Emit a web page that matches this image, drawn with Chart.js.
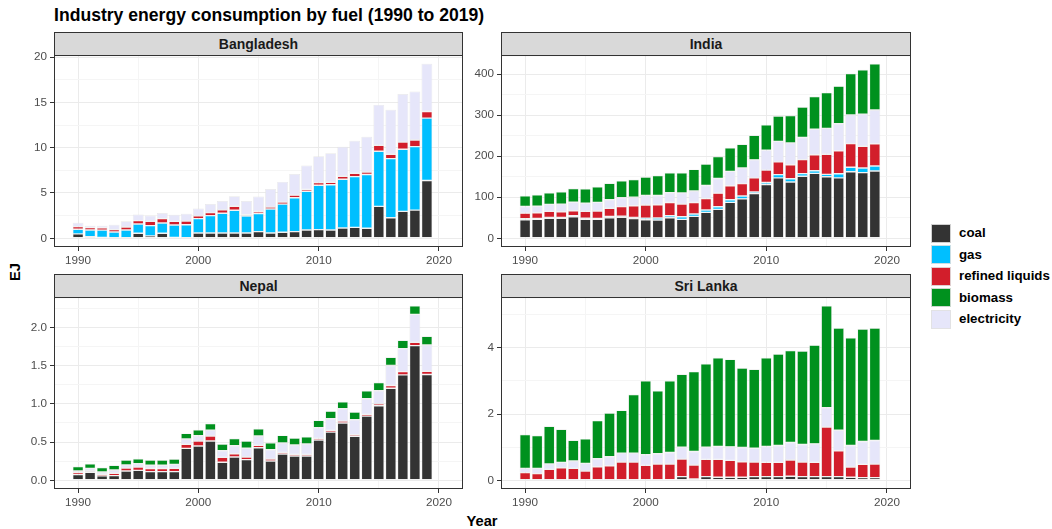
<!DOCTYPE html>
<html>
<head>
<meta charset="utf-8">
<script src="https://cdn.jsdelivr.net/npm/chart.js@4.4.1/dist/chart.umd.min.js"></script>
<style>
  body { margin:0; background:#fff; width:1052px; height:529px; overflow:hidden; position:relative;
         font-family:"Liberation Sans", Arial, sans-serif; }
  .abs { position:absolute; }
  .title { left:54px; top:4px; font-weight:bold; font-size:17.6px; line-height:22px; color:#000; white-space:nowrap; }
  .strip { box-sizing:border-box; background:#D9D9D9; border:1px solid #333; text-align:center;
           font-weight:bold; font-size:14px; color:#1A1A1A; display:flex; align-items:center; justify-content:center; }
  .axtitle { font-weight:bold; font-size:14.67px; color:#000; white-space:nowrap; }
  .key { width:20px; height:19px; box-sizing:border-box; border:1px solid rgba(225,225,225,0.9); }
  .ltext { font-weight:bold; font-size:13.3px; color:#000; white-space:nowrap; line-height:16px; }
</style>
</head>
<body>
<div class="abs title">Industry energy consumption by fuel (1990 to 2019)</div>
<div class="abs axtitle" style="left:482px; top:521px; transform:translate(-50%,-50%);">Year</div>
<div class="abs axtitle" style="left:15px; top:272px; transform:translate(-50%,-50%) rotate(-90deg);">EJ</div>
<div id="legend"></div>
<script>
// ---------- data ----------
const years = [1990,1991,1992,1993,1994,1995,1996,1997,1998,1999,2000,2001,2002,2003,2004,2005,2006,2007,2008,2009,2010,2011,2012,2013,2014,2015,2016,2017,2018,2019];
const xTickLabels = [1990,2000,2010,2020];

const fuels = ['coal','gas','refined liquids','biomass','electricity'];           // legend order
const stackOrder = ['coal','gas','refined liquids','electricity','biomass'];      // bottom -> top
const fuelColors = ['#333333','#00BFFF','#D21E2B','#00911E','#E6E6FA'];

// Bangladesh
const bdCoal    = [0.48,0.18,0.10,0.05,0.00,0.55,0.26,0.55,0.10,0.05,0.59,0.59,0.59,0.59,0.59,0.73,0.59,0.66,0.73,0.92,0.95,0.92,1.13,1.20,1.10,3.52,2.27,2.97,3.11,6.37];
const bdGas     = [0.51,0.74,0.80,0.65,0.92,1.03,1.14,1.14,1.36,1.45,1.58,1.91,2.17,2.50,1.87,2.00,2.64,3.11,3.74,4.25,4.90,4.98,5.38,5.60,5.93,6.08,6.52,6.85,7.00,6.89];
const bdRefined = [0.29,0.26,0.25,0.25,0.33,0.37,0.48,0.48,0.40,0.40,0.30,0.33,0.37,0.44,0.15,0.22,0.22,0.22,0.29,0.22,0.29,0.29,0.33,0.37,0.29,0.66,0.48,0.80,0.73,0.73];
const bdElec    = [0.44,0.20,0.22,0.55,0.62,0.66,0.62,0.62,0.73,0.80,0.81,0.96,0.99,1.10,1.50,1.65,1.98,2.23,2.34,2.63,2.90,3.19,3.26,3.60,3.88,4.46,4.90,5.30,5.35,5.27];
const bdTicks   = [0,5,10,15,20];

// India
const inCoal    = [45,46,48.6,48.6,52.6,46,46,50,51,47.8,45,44.5,50,46,53.4,63,70.4,87.4,96,109,131,147,137,151,158,150,147,162,160,164];
const inGas     = [2.4,2,2,2,2.4,3,2.4,3,3,3.2,4,5,5,6.5,5.7,5.7,6.5,6.5,7,4,5,8,8,6.5,6.5,5.7,10,11,11,12];
const inRefined = [13.8,14,15,14,12,17,18,20,23,28,32,32,32,31,28,28,33,34,30,34,30,31,34,34,39,49,56,57.5,53,54];
const inElec    = [16.2,16,17,18.6,21,19.4,21,21,22,21,23.5,22.7,24,27,28,32,35.6,35,38,44,48.6,50,53,54,62,63,66,70,78.5,82.6];
const inBio     = [25.9,28,28,30,33,35,38,40,41,43,44.5,48.6,48.6,49,52.6,52,53.4,57.5,58,60,62,62,67,74,80,87,91.5,101,108,112.5];
const inTicks   = [0,100,200,300,400];

// Nepal
const npCoal    = [0.074,0.104,0.057,0.061,0.122,0.130,0.113,0.113,0.113,0.417,0.448,0.513,0.235,0.304,0.270,0.426,0.252,0.343,0.317,0.317,0.526,0.630,0.748,0.574,0.839,0.974,1.204,1.378,1.761,1.383];
const npRefined = [0.026,0.017,0.022,0.030,0.039,0.043,0.040,0.040,0.043,0.052,0.065,0.065,0.065,0.043,0.035,0.030,0.026,0.022,0.022,0.022,0.022,0.022,0.026,0.022,0.022,0.026,0.035,0.043,0.043,0.043];
const npElec    = [0.022,0.035,0.030,0.043,0.039,0.043,0.043,0.043,0.052,0.070,0.070,0.078,0.087,0.104,0.113,0.122,0.122,0.122,0.122,0.135,0.139,0.152,0.161,0.196,0.204,0.170,0.261,0.300,0.365,0.343];
const npBio     = [0.057,0.061,0.057,0.061,0.065,0.065,0.070,0.070,0.070,0.074,0.078,0.087,0.087,0.096,0.096,0.096,0.091,0.100,0.091,0.096,0.096,0.100,0.091,0.100,0.104,0.109,0.109,0.109,0.113,0.113];
const npTicks   = [0,0.5,1.0,1.5,2.0];

// Sri Lanka
const lkCoal    = [0,0,0,0,0,0,0,0,0,0,0,0,0.02,0.11,0.04,0.11,0.09,0.09,0.09,0.11,0.11,0.11,0.12,0.11,0.11,0.11,0.11,0.09,0.08,0.08];
const lkRefined = [0.23,0.20,0.33,0.38,0.36,0.28,0.41,0.44,0.55,0.55,0.45,0.49,0.47,0.53,0.42,0.52,0.54,0.51,0.47,0.44,0.43,0.43,0.49,0.44,0.43,1.50,0.78,0.31,0.40,0.41];
const lkElec    = [0.13,0.16,0.16,0.16,0.22,0.23,0.24,0.27,0.27,0.27,0.32,0.31,0.35,0.36,0.41,0.37,0.39,0.41,0.43,0.42,0.48,0.51,0.53,0.53,0.56,0.58,0.62,0.65,0.69,0.71];
const lkBio     = [1.02,0.99,1.14,1.00,0.63,0.74,1.15,1.32,1.29,1.77,2.23,1.90,2.16,2.20,2.41,2.52,2.68,2.64,2.40,2.38,2.68,2.76,2.78,2.82,2.98,3.08,3.09,3.25,3.40,3.40];
const lkTicks   = [0,2,4];

// ---------- layout ----------
const FONT = '"Liberation Sans", Arial, sans-serif';
const panels = [
  { name:'Bangladesh', data:{'coal':bdCoal,'gas':bdGas,'refined liquids':bdRefined,'electricity':bdElec},
    ticks:bdTicks, dec:0, box:{left:0,   top:45,  width:465, height:230}, yw:54 },
  { name:'India', data:{'coal':inCoal,'gas':inGas,'refined liquids':inRefined,'electricity':inElec,'biomass':inBio},
    ticks:inTicks, dec:0, box:{left:455, top:45,  width:458, height:230}, yw:46 },
  { name:'Nepal', data:{'coal':npCoal,'refined liquids':npRefined,'electricity':npElec,'biomass':npBio},
    ticks:npTicks, dec:1, box:{left:0,   top:287, width:465, height:230}, yw:54 },
  { name:'Sri Lanka', data:{'coal':lkCoal,'refined liquids':lkRefined,'electricity':lkElec,'biomass':lkBio},
    ticks:lkTicks, dec:0, box:{left:455, top:287, width:458, height:230}, yw:46 }
];

const borderPlugin = {
  id:'panelBorder',
  afterDraw(chart){
    const {ctx, chartArea:a} = chart;
    ctx.save();
    ctx.strokeStyle = '#333333';
    ctx.lineWidth = 1;
    ctx.strokeRect(a.left+0.5, a.top+0.5, a.right-a.left-1, a.bottom-a.top-1);
    ctx.restore();
  }
};

function near(v, list){ return list.some(t => Math.abs(t - v) < 1e-9); }

panels.forEach(p => {
  const wrap = document.createElement('div');
  wrap.className = 'abs';
  Object.assign(wrap.style, {left:p.box.left+'px', top:p.box.top+'px', width:p.box.width+'px', height:p.box.height+'px'});
  const cv = document.createElement('canvas');
  cv.width = p.box.width; cv.height = p.box.height;
  cv.style.width = p.box.width+'px'; cv.style.height = p.box.height+'px';
  wrap.appendChild(cv);
  document.body.appendChild(wrap);

  const datasets = [];
  stackOrder.forEach(f => {
    const vals = p.data[f];
    if (!vals) return;
    const c = fuelColors[fuels.indexOf(f)];
    datasets.push({
      label:f,
      data: years.map((yr,i) => ({x:yr, y: vals[i] > 0 ? vals[i] : null})),
      backgroundColor:c,
      borderColor:'rgba(228,228,228,0.85)',
      borderWidth:0.7,
      borderSkipped:false,
      barPercentage:0.9,
      categoryPercentage:1.0
    });
  });

  // totals for ggplot-like 5% expansion
  const totals = years.map((_,i) => Object.values(p.data).reduce((s,a)=>s+a[i],0));
  const maxT = Math.max(...totals);
  const yMin = -0.05*maxT, yMax = 1.05*maxT;
  const step = p.ticks[1]-p.ticks[0];
  const yAll = [];
  for (let k=0; k<p.ticks.length; k++){ yAll.push(p.ticks[k]); if (p.ticks[k]+step/2 <= yMax) yAll.push(p.ticks[k]+step/2); }
  const xAll = [];
  for (let k=0; k<xTickLabels.length; k++){ xAll.push(xTickLabels[k]); if (k < xTickLabels.length-1) xAll.push(xTickLabels[k]+5); }

  const gridCfg = (majors) => ({
    color: c => (c.tick && near(c.tick.value, majors)) ? '#EBEBEB' : '#F5F5F5',
    lineWidth: 1,
    tickColor: c => (c.tick && near(c.tick.value, majors)) ? '#333333' : 'rgba(0,0,0,0)',
    tickLength: 4,
    tickWidth: 1,
    drawTicks: true,
    offset:false
  });

  const chart = new Chart(cv, {
    type:'bar',
    data:{ datasets },
    options:{
      responsive:false, animation:false, devicePixelRatio:1,
      layout:{ padding:{top:10, right:2, left:0, bottom:0} },
      plugins:{ legend:{display:false}, tooltip:{enabled:false}, title:{display:false} },
      scales:{
        x:{
          type:'linear', stacked:true, offset:false, min:1988, max:2022,
          border:{display:false},
          grid: gridCfg(xTickLabels),
          afterBuildTicks: s => { s.ticks = xAll.map(v => ({value:v})); },
          afterFit: s => { s.height = 28; },
          ticks:{ autoSkip:false, maxRotation:0, padding:3, color:'#4D4D4D',
                  font:{family:FONT, size:11.7},
                  callback: v => near(v, xTickLabels) ? String(v) : '' }
        },
        y:{
          type:'linear', stacked:true, min:yMin, max:yMax,
          border:{display:false},
          grid: gridCfg(p.ticks),
          afterBuildTicks: s => { s.ticks = yAll.map(v => ({value:v})); },
          afterFit: s => { s.width = p.yw; },
          ticks:{ autoSkip:false, padding:3, color:'#4D4D4D',
                  font:{family:FONT, size:11.7},
                  callback: v => near(v, p.ticks) ? v.toFixed(p.dec) : '' }
        }
      }
    },
    plugins:[borderPlugin]
  });

  const a = chart.chartArea;
  const strip = document.createElement('div');
  strip.className = 'abs strip';
  Object.assign(strip.style, {
    left:(p.box.left + a.left)+'px', top:(p.box.top + a.top - 23)+'px',
    width:(a.right - a.left)+'px', height:'24px'
  });
  strip.textContent = p.name;
  document.body.appendChild(strip);
});

// ---------- legend ----------
const legend = document.getElementById('legend');
fuels.forEach((f,i) => {
  const cy = 233 + i*21.5;
  const k = document.createElement('div');
  k.className = 'abs key';
  Object.assign(k.style, {left:'931px', top:(cy-9.5)+'px', background:fuelColors[i]});
  legend.appendChild(k);
  const t = document.createElement('div');
  t.className = 'abs ltext';
  Object.assign(t.style, {left:'959px', top:(cy-8)+'px'});
  t.textContent = f;
  legend.appendChild(t);
});
</script>
</body>
</html>
